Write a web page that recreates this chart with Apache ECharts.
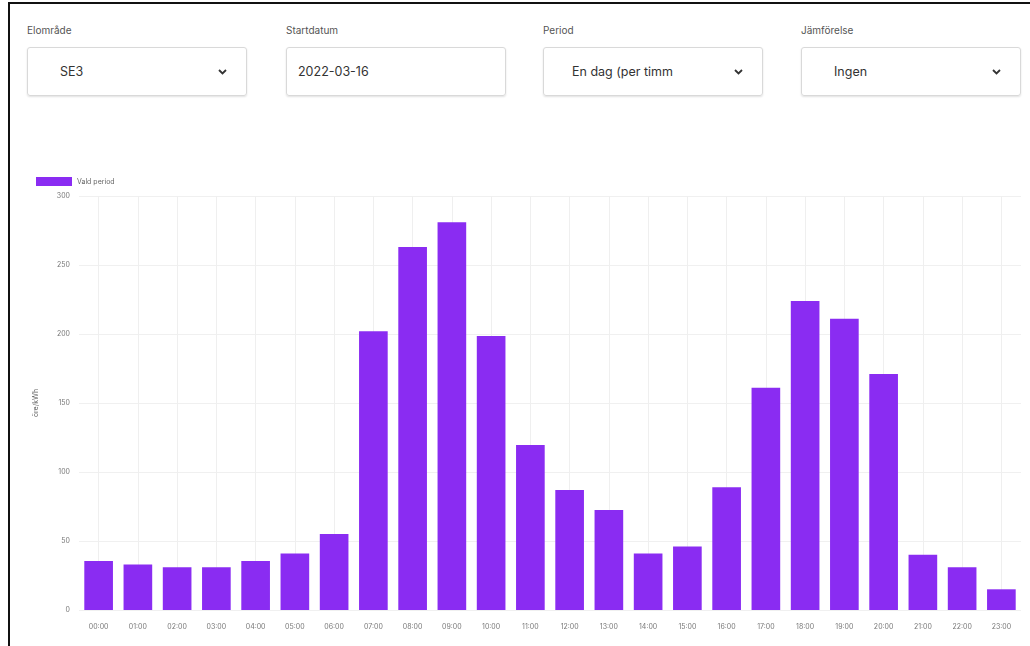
<!DOCTYPE html>
<html>
<head>
<meta charset="utf-8">
<script src="https://cdn.jsdelivr.net/npm/echarts@6/dist/echarts.min.js"></script>
<style>
  html, body { margin: 0; padding: 0; background: #fff; }
  body { width: 1030px; height: 646px; position: relative; overflow: hidden; font-family: Inter, "Noto Sans", sans-serif; }
  #frame { position: absolute; left: 8px; top: 2px; width: 1030px; height: 660px; border-left: 2px solid #111; border-top: 2px solid #111; box-sizing: border-box; }
  .ctl { position: absolute; top: 22px; width: 220px; }
  .ctl .lbl { font-size: 10px; color: #555; height: 16px; line-height: 16px; }
  .ctl .box { margin-top: 9px; height: 49px; border: 1px solid #d9d9d9; border-radius: 3px; box-shadow: 0 1px 2px rgba(0,0,0,0.12); box-sizing: border-box; position: relative; font-size: 12.5px; color: #333; line-height: 47px; }
  .ctl .box .txt { position: absolute; left: 32px; top: 0; white-space: nowrap; }
  .ctl .box svg { position: absolute; right: 19px; top: 21px; }
</style>
</head>
<body>
<div id="frame"></div>
<div class="ctl" style="left:27px;"><div class="lbl">Elområde</div><div class="box"><span class="txt" style="left:32px">SE3</span><svg width="9" height="6" viewBox="0 0 9 6"><polyline points="1,1 4.5,4.5 8,1" fill="none" stroke="#333" stroke-width="1.8"/></svg></div></div>
<div class="ctl" style="left:286px;"><div class="lbl">Startdatum</div><div class="box"><span class="txt" style="left:11px">2022-03-16</span></div></div>
<div class="ctl" style="left:543px;"><div class="lbl">Period</div><div class="box"><span class="txt" style="left:28px">En dag (per timm</span><svg width="9" height="6" viewBox="0 0 9 6"><polyline points="1,1 4.5,4.5 8,1" fill="none" stroke="#333" stroke-width="1.8"/></svg></div></div>
<div class="ctl" style="left:801px;"><div class="lbl">Jämförelse</div><div class="box"><span class="txt" style="left:32px">Ingen</span><svg width="9" height="6" viewBox="0 0 9 6"><polyline points="1,1 4.5,4.5 8,1" fill="none" stroke="#333" stroke-width="1.8"/></svg></div></div>
<div id="chart" style="position:absolute;left:0;top:0;width:1030px;height:646px;"></div>
<script>
const hours = ["00:00","01:00","02:00","03:00","04:00","05:00","06:00","07:00","08:00","09:00","10:00","11:00",
               "12:00","13:00","14:00","15:00","16:00","17:00","18:00","19:00","20:00","21:00","22:00","23:00"];
const prices = [35.5, 33, 31, 31, 35.5, 41, 55, 202, 263, 281, 198.5, 119.5,
                87, 72.5, 41, 46, 89, 161, 224, 211, 171, 40, 31, 15];
const seriesName = "Vald period";
const yAxisName = "öre/kWh";

const chart = echarts.init(document.getElementById('chart'), null, {renderer: 'canvas'});
chart.setOption({
  animation: false,
  legend: {
    left: 31, top: 172, itemWidth: 36, itemHeight: 9, itemGap: 6,
    textStyle: { fontSize: 7, color: '#666', fontFamily: 'Inter' },
    data: [{ name: seriesName, icon: 'rect' }]
  },
  grid: { left: 79, right: 9, top: 196, bottom: 36, containLabel: false },
  xAxis: {
    type: 'category', data: hours,
    axisLine: { show: false },
    axisTick: { show: false },
    axisLabel: { fontSize: 7, color: '#777', margin: 13, fontFamily: 'Inter' },
    splitLine: { show: true, alignWithLabel: true, lineStyle: { color: '#efefef', width: 1 } }
  },
  yAxis: {
    type: 'value', min: 0, max: 300, interval: 50,
    name: yAxisName, nameLocation: 'middle', nameGap: 40, nameRotate: 90,
    nameTextStyle: { fontSize: 7, color: '#666', fontFamily: 'Inter' },
    axisLine: { show: false }, axisTick: { show: false },
    axisLabel: { fontSize: 7, color: '#777', margin: 9, fontFamily: 'Inter' },
    splitLine: { lineStyle: { color: '#f0f0f0' } }
  },
  series: [{
    name: seriesName, type: 'bar', data: prices,
    barWidth: '73%',
    itemStyle: { color: '#8a2cf2' }
  }]
});
</script>
</body>
</html>
